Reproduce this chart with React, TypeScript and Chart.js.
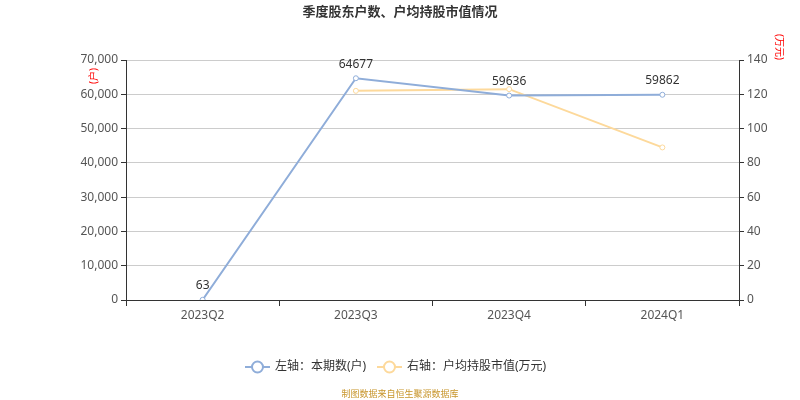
import { useEffect, useRef } from 'react'
import { Chart, registerables } from 'chart.js'

Chart.register(...registerables)

const quarters = ['2023Q2', '2023Q3', '2023Q4', '2024Q1']
const holders = [63, 64677, 59636, 59862]
const avgValue = [null, 122, 123, 89]
const leftTicks = [0, 10000, 20000, 30000, 40000, 50000, 60000, 70000]
const rightTicks = [0, 20, 40, 60, 80, 100, 120, 140]

const BLUE = '#8fadd9'
const YELLOW = '#fdd99b'
const FONT = "'Noto Sans', 'Noto Sans CJK SC', sans-serif"

// title, axis names, value labels, legend and source line
const decorations = {
  id: 'decorations',
  afterDraw(chart: any) {
    const ctx = chart.ctx
    ctx.save()
    ctx.textBaseline = 'middle'

    ctx.fillStyle = '#333'
    ctx.textAlign = 'center'
    ctx.font = `bold 13px ${FONT}`
    ctx.fillText('季度股东户数、户均持股市值情况', 400, 12)

    // value labels above the left-axis line
    ctx.font = `12px ${FONT}`
    const meta = chart.getDatasetMeta(0)
    meta.data.forEach((pt: any, i: number) => {
      ctx.fillText(String(holders[i]), pt.x, pt.y - 14)
    })

    // axis names
    ctx.fillStyle = '#ff0000'
    ctx.font = `10px ${FONT}`
    ctx.save()
    ctx.translate(94, 76)
    ctx.rotate(-Math.PI / 2)
    ctx.fillText('(户)', 0, 0)
    ctx.restore()
    ctx.save()
    ctx.translate(779, 47)
    ctx.rotate(Math.PI / 2)
    ctx.fillText('(万元)', 0, 0)
    ctx.restore()

    // legend
    const items = [
      { x: 245, color: BLUE, text: '左轴：本期数(户)' },
      { x: 377, color: YELLOW, text: '右轴：户均持股市值(万元)' },
    ]
    const ly = 367
    items.forEach(it => {
      ctx.strokeStyle = it.color
      ctx.lineWidth = 2
      ctx.beginPath()
      ctx.moveTo(it.x, ly)
      ctx.lineTo(it.x + 25, ly)
      ctx.stroke()
      ctx.beginPath()
      ctx.arc(it.x + 12.5, ly, 5.5, 0, Math.PI * 2)
      ctx.fillStyle = '#fff'
      ctx.fill()
      ctx.stroke()
      ctx.fillStyle = '#333'
      ctx.textAlign = 'left'
      ctx.font = `12px ${FONT}`
      ctx.fillText(it.text, it.x + 30, ly)
    })

    ctx.fillStyle = '#c8962d'
    ctx.textAlign = 'center'
    ctx.font = `9px ${FONT}`
    ctx.fillText('制图数据来自恒生聚源数据库', 400, 394)
    ctx.restore()
  },
}

export default function App() {
  const canvasRef = useRef<HTMLCanvasElement>(null)

  useEffect(() => {
    if (!canvasRef.current) return
    const chart = new Chart(canvasRef.current, {
      type: 'line',
      data: {
        labels: quarters,
        datasets: [
          {
            label: '左轴：本期数(户)',
            data: holders,
            yAxisID: 'y',
            borderColor: BLUE,
            backgroundColor: '#fff',
            borderWidth: 2,
            pointRadius: 2.5,
            pointBorderWidth: 1,
            pointBorderColor: BLUE,
            pointBackgroundColor: '#fff',
          },
          {
            label: '右轴：户均持股市值(万元)',
            data: avgValue,
            yAxisID: 'y1',
            borderColor: YELLOW,
            backgroundColor: '#fff',
            borderWidth: 2,
            pointRadius: 2.5,
            pointBorderWidth: 1,
            pointBorderColor: YELLOW,
            pointBackgroundColor: '#fff',
          },
        ],
      },
      options: {
        responsive: false,
        animation: false,
        layout: { padding: { top: 60, left: 0, right: 0, bottom: 0 } },
        plugins: {
          legend: { display: false },
          title: { display: false },
          tooltip: { enabled: false },
        },
        scales: {
          x: {
            offset: true,
            grid: {
              offset: true,
              drawOnChartArea: false,
              tickLength: 6,
              tickColor: '#333',
            },
            border: { color: '#333', width: 1 },
            ticks: { color: '#555', font: { size: 12, family: FONT }, padding: 2 },
            afterFit: (s: any) => { s.height = 100 },
          },
          y: {
            position: 'left',
            min: 0,
            max: 70000,
            afterBuildTicks: (s: any) => { s.ticks = leftTicks.map(v => ({ value: v })) },
            grid: { color: '#cccccc', tickLength: 5, tickColor: '#333' },
            border: { color: '#333', width: 1 },
            ticks: {
              color: '#555',
              font: { size: 12, family: FONT },
              padding: 3,
              callback: (v: any) => Number(v).toLocaleString('en-US'),
            },
            afterFit: (s: any) => { s.width = 126 },
          },
          y1: {
            position: 'right',
            min: 0,
            max: 140,
            afterBuildTicks: (s: any) => { s.ticks = rightTicks.map(v => ({ value: v })) },
            grid: { drawOnChartArea: false, tickLength: 5, tickColor: '#333' },
            border: { color: '#333', width: 1 },
            ticks: { color: '#555', font: { size: 12, family: FONT }, padding: 3 },
            afterFit: (s: any) => { s.width = 61 },
          },
        },
      },
      plugins: [decorations],
    })
    return () => chart.destroy()
  }, [])

  return (
    <div style={{ position: 'fixed', left: 0, top: 0, width: 800, height: 400, background: '#fff' }}>
      <canvas ref={canvasRef} width={800} height={400} />
    </div>
  )
}
